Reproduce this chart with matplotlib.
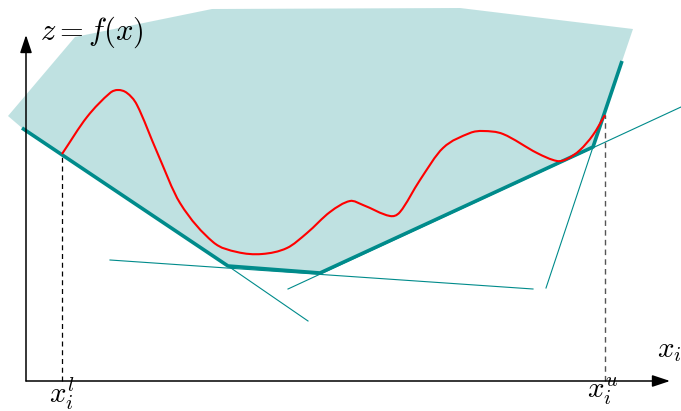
import numpy as np
import matplotlib.pyplot as plt
from matplotlib.path import Path
from matplotlib.patches import PathPatch

plt.rcParams['mathtext.fontset'] = 'cm'

# diagram coordinates: origin where the axes cross, z upwards
# bounds of the variable
x_low, x_up = 36, 579

# red curve f(x)
curve_x = [36, 61, 84, 92, 101, 111, 131, 154, 187, 211, 236, 261, 281, 304,
           324, 337, 364, 374, 394, 417, 444, 457, 477, 511, 531, 541, 554,
           567, 579]
curve_z = [227, 264, 288, 291, 288, 276, 229, 178, 139, 129, 127, 133, 148, 169,
           180, 176, 165, 169, 201, 233, 248, 250, 247, 228, 220, 222, 231,
           246, 266]

# piecewise-linear under-estimator (thick)
under_x = [-4, 202, 294, 567, 596]
under_z = [253, 115, 108, 234, 320]

# feasible region (shaded)
region_x = [-18, 49, 186, 434, 607, 567, 294, 202, -4]
region_z = [265, 344, 372, 373, 352, 234, 108, 115, 253]

# thin extensions of the supporting lines: (x0, z0, x1, z1)
ext_x0 = [202, 84, 262, 520]
ext_z0 = [115, 121, 92, 93]
ext_x1 = [282, 507, 655, 567]
ext_z1 = [60, 92, 274, 234]

teal = 'darkcyan'


def smooth_path(xs, zs):
    # cubic Hermite through the read points (curve is a graph z(x))
    x = np.asarray(xs, float)
    z = np.asarray(zs, float)
    m = np.empty_like(z)
    m[1:-1] = (z[2:] - z[:-2]) / (x[2:] - x[:-2])
    m[0] = (z[1] - z[0]) / (x[1] - x[0])
    m[-1] = (z[-1] - z[-2]) / (x[-1] - x[-2])
    verts = [(x[0], z[0])]
    codes = [Path.MOVETO]
    for k in range(len(x) - 1):
        h = (x[k + 1] - x[k]) / 3
        verts += [(x[k] + h, z[k] + m[k] * h),
                  (x[k + 1] - h, z[k + 1] - m[k + 1] * h),
                  (x[k + 1], z[k + 1])]
        codes += [Path.CURVE4] * 3
    return Path(verts, codes)


fig = plt.figure(figsize=(6.81, 4.11), dpi=100)
ax = fig.add_axes([0, 0, 1, 1])
ax.set_xlim(-26, 655)
ax.set_ylim(-30, 381)
ax.axis('off')

ax.fill(region_x, region_z, color=teal, alpha=0.25, lw=0, zorder=1)

for x0, z0, x1, z1 in zip(ext_x0, ext_z0, ext_x1, ext_z1):
    ax.plot([x0, x1], [z0, z1], color=teal, lw=0.8, zorder=2)

ax.plot(under_x, under_z, color=teal, lw=2.6, solid_capstyle='butt', zorder=3)

ax.add_patch(PathPatch(smooth_path(curve_x, curve_z), fill=False,
                       edgecolor='red', lw=1.5, zorder=4))

# bound markers
ax.plot([x_low, x_low], [0, curve_z[0]], color='black', lw=0.9,
        ls=(0, (4, 3)), zorder=2)
ax.plot([x_up, x_up], [0, curve_z[-1]], color='#555555', lw=1.0,
        ls=(0, (4, 3)), zorder=2)

# axes with arrows
arrow = dict(arrowstyle='-|>,head_length=0.6,head_width=0.2',
             lw=1.1, color='black', mutation_scale=18, shrinkA=0, shrinkB=0)
ax.annotate('', xy=(0, 346), xytext=(0, 0), arrowprops=arrow)
ax.annotate('', xy=(644, 0), xytext=(0, 0), arrowprops=arrow)

ax.text(14, 341, r'$z = f(x)$', fontsize=22, ha='left', va='baseline')
ax.text(631, 24, r'$x_i$', fontsize=21, ha='left', va='baseline')
ax.text(x_low, 6, r'$x_i^l$', fontsize=21, ha='center', va='top')
ax.text(x_up - 2, 6, r'$x_i^u$', fontsize=21, ha='center', va='top')

fig.savefig('out.png', dpi=100)
